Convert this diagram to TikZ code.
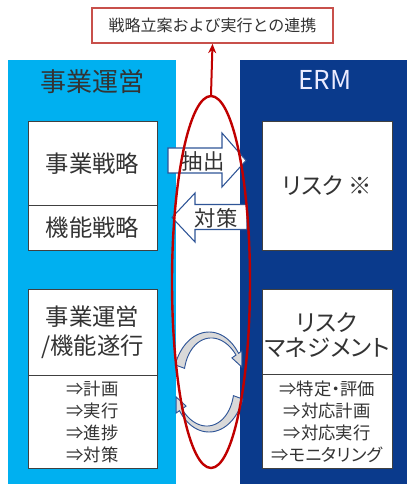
\documentclass[tikz,border=0pt]{standalone}
\usepackage{fontspec}
\setmainfont{Noto Sans CJK JP}
\newfontfamily\kana[RawFeature=+palt]{Noto Sans CJK JP}
\usetikzlibrary{shapes.geometric,arrows.meta}
\definecolor{lblue}{HTML}{00B0F0}
\definecolor{dblue}{HTML}{0A3A8C}
\definecolor{txt}{HTML}{333333}
\definecolor{redl}{HTML}{C00000}
\definecolor{redb}{HTML}{C8504B}
\definecolor{arrb}{HTML}{2F5597}
\definecolor{cyfill}{HTML}{D9D9D9}
\tikzset{
  panel/.style={draw=none, inner sep=0pt, anchor=center},
  wbox/.style={draw=black!75, line width=0.75pt, fill=white, inner sep=0pt, text=txt},
  blk/.style={draw=arrb, line width=0.8pt, fill=white, line join=miter},
  cyc/.style={draw=arrb, line width=0.7pt, fill=cyfill},
  lbl/.style={text=txt, inner sep=0pt, align=center},
}
\begin{document}
\begin{tikzpicture}[x=0.75pt,y=-0.75pt]
\useasboundingbox (0,0) rectangle (407,484);
% panels
\node[panel, fill=lblue, minimum width=126pt, minimum height=318pt] (lp) at (92,272) {};
\node[panel, fill=dblue, minimum width=125.25pt, minimum height=318pt] (rp) at (323.5,272) {};
\node[lbl, font=\fontsize{19.5}{22}\selectfont] (lh) at (92,82) {事業運営};
\node[lbl, text={white!92!blue}, font=\fontsize{19.5}{22}\selectfont] (rh) at (325,80) {ERM};
% left boxes
\node[wbox, minimum width=96.75pt, minimum height=63pt, font=\fontsize{17.5}{20}\selectfont] (bs) at (92.5,164) {事業戦略};
\node[wbox, minimum width=96.75pt, minimum height=33pt, font=\fontsize{17.5}{20}\selectfont] (fs) at (92.5,228) {機能戦略};
\node[wbox, minimum width=96.75pt, minimum height=64.5pt, align=center, font=\fontsize{17.5}{21.75}\selectfont] (bo) at (92.5,332) {事業運営\\/機能遂行};
\node[wbox, minimum width=96.75pt, minimum height=69.75pt, align=center, font=\fontsize{13}{16.5}\selectfont] (bl) at (92.5,421.5) {⇒計画\\⇒実行\\⇒進捗\\⇒対策};
% right boxes
\node[wbox, minimum width=97.5pt, minimum height=96pt, font=\fontsize{17.5}{20}\selectfont] (rk) at (327,186) {\kana リスク ※};
\node[wbox, minimum width=97.5pt, minimum height=63.75pt] (rm) at (327,331.5) {};
\node[lbl, font=\fontsize{17.5}{18.75}\selectfont\kana] (rmt) at (327,335.5) {リスク\\マネジメント};
\node[wbox, minimum width=97.5pt, minimum height=70.5pt, align=center, font=\fontsize{13}{16.5}\selectfont] (rl) at (327,421.5) {⇒特定{\kana ・}評価\\⇒対応計画\\⇒対応実行\\⇒{\kana モニタリング}};
% block arrows
\draw[blk] (168,148) -- (222,148) -- (222,133) -- (246,160.5) -- (222,187) -- (222,173) -- (168,173) -- cycle;
\node[lbl, font=\fontsize{16}{18}\selectfont] (ex) at (203,161) {抽出};
\draw[blk] (172,217.5) -- (195,193) -- (195,204.5) -- (247,204.5) -- (247,229.5) -- (195,229.5) -- (195,242) -- cycle;
\node[lbl, font=\fontsize{16}{18}\selectfont] (ms) at (216,218) {対策};
% circular arrows
\draw[cyc] plot[domain=160:35, samples=40] ({209+36*cos(\x)},{382-50*sin(\x)})
  -- (241.8,351.0) -- (241.8,367) -- (231.9,357.9)
  -- plot[domain=35:160, samples=40] ({209+(33-7*(\x-35)/125)*cos(\x)},{382-(47-7*(\x-35)/125)*sin(\x)}) -- cycle;
\draw[cyc] plot[domain=340:215, samples=40] ({209+36*cos(\x)},{382-50*sin(\x)})
  -- (176.2,413.0) -- (176.2,397) -- (186.1,406.1)
  -- plot[domain=215:340, samples=40] ({209+(33-7*(\x-215)/125)*cos(\x)},{382-(47-7*(\x-215)/125)*sin(\x)}) -- cycle;
% red loop
\node[ellipse, draw=redl, line width=1.8pt, minimum width=58.5pt, minimum height=279pt, inner sep=0pt] (loop) at (211,282) {};
% top box
\node[draw=redb, line width=1.3pt, fill=white, minimum width=180.75pt, minimum height=26.25pt, inner sep=0pt, text=txt, font=\fontsize{12}{14}\selectfont] (top) at (212.5,25.5) {戦略立案および実行との連携};
\draw[redl, line width=1.5pt, -{Stealth[length=7pt,width=6pt]}] (loop.north) -- (top.south);
\end{tikzpicture}
\end{document}
